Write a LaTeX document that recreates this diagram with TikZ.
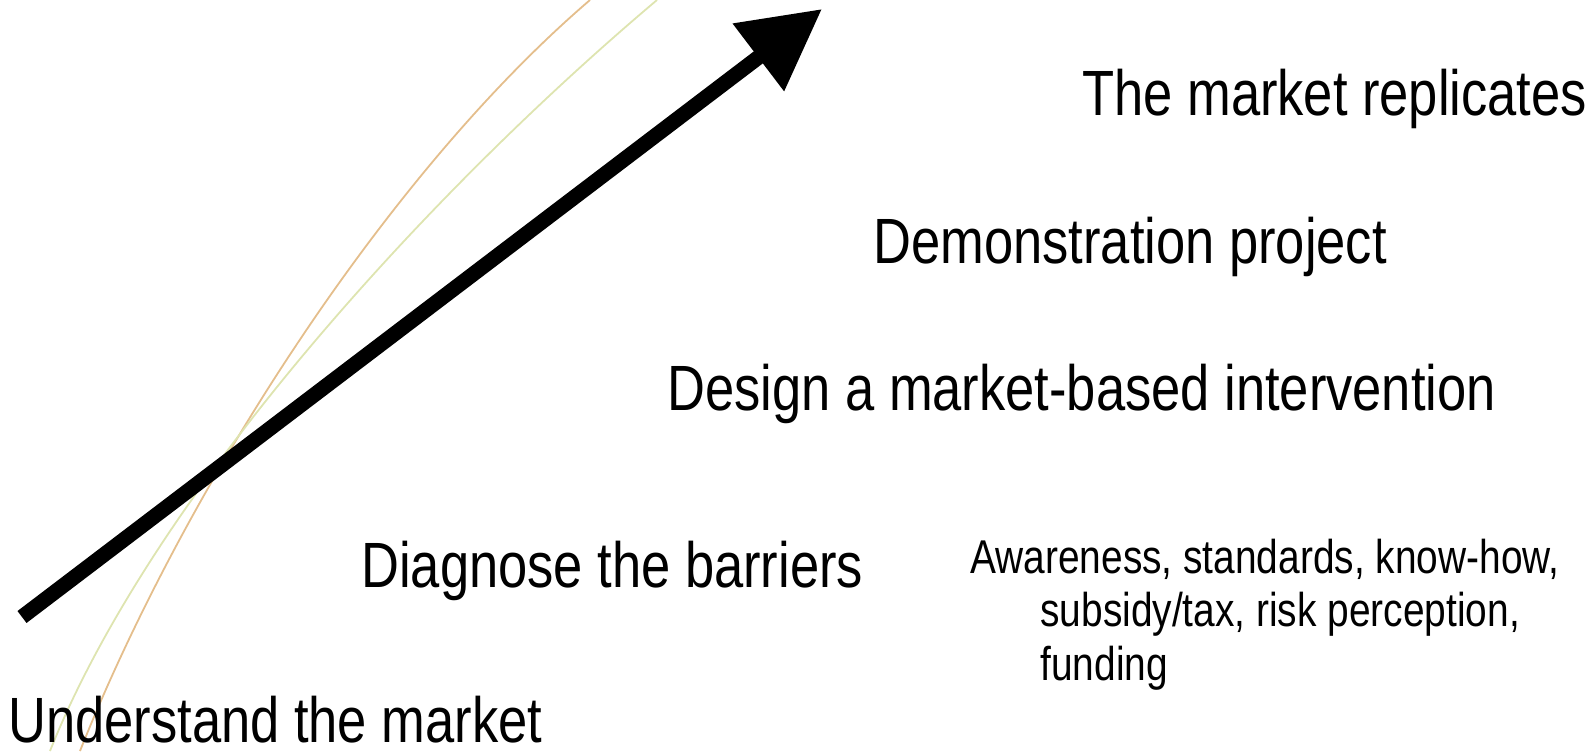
\documentclass[tikz,border=0pt]{standalone}
\usepackage{fontspec}
\setmainfont[FakeStretch=0.82]{Liberation Sans}
\usetikzlibrary{arrows.meta}
\definecolor{curvetan}{RGB}{228,190,140}
\definecolor{curvepale}{RGB}{222,228,176}
\begin{document}
\begin{tikzpicture}[x=0.5pt,y=-0.5pt]
\tikzstyle{step label}=[anchor=base west,inner sep=0pt,font=\fontsize{32}{38}\selectfont]
\tikzstyle{barrier label}=[anchor=base west,inner sep=0pt,font=\fontsize{23.7}{28}\selectfont]
\tikzstyle{progress}=[line width=7.5pt,-{Triangle[length=40pt,width=40.5pt]}]

\useasboundingbox (0,0) rectangle (1596,751);

% background curves
\draw[curvetan,line width=0.9pt] (80,751) .. controls (180,500) and (380,180) .. (590,0);
\draw[curvepale,line width=0.9pt] (50,751) .. controls (150,500) and (420,200) .. (657,0);

\coordinate (start) at (22,617);
\coordinate (tip) at (822,9);
\draw[progress] (start) -- (tip);

\node[step label] (understand) at (8,742) {Understand the market};
\node[step label] (diagnose) at (361,587) {Diagnose the barriers};
\node[step label] (design) at (667,410) {Design a market-based intervention};
\node[step label] (demo) at (873,263) {Demonstration project};
\node[step label] (replicate) at (1082,115) {The market replicates};

\node[barrier label] (barriers1) at (970,573) {Awareness, standards, know-how,};
\node[barrier label] (barriers2) at (1040,626) {subsidy/tax, risk perception,};
\node[barrier label] (barriers3) at (1040,680) {funding};
\end{tikzpicture}
\end{document}
